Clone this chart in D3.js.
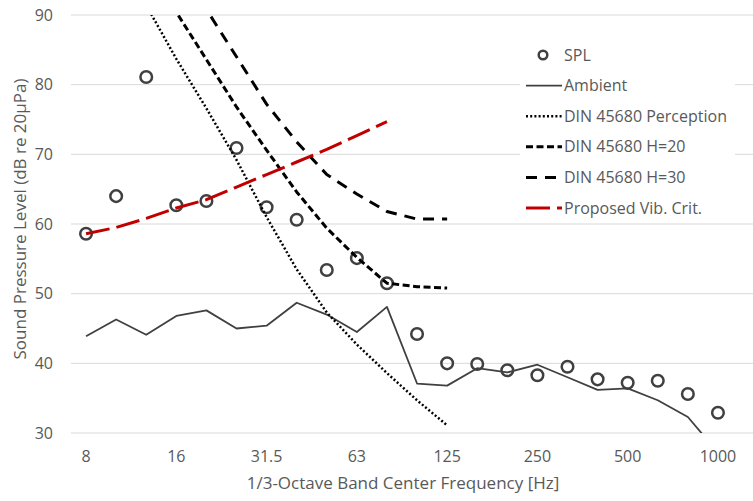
<!DOCTYPE html>
<html><head><meta charset="utf-8">
<script src="https://cdnjs.cloudflare.com/ajax/libs/d3/7.8.5/d3.min.js"></script>
<style>
html,body{margin:0;padding:0;background:#fff;}
svg{display:block;font-family:"Open Sans",sans-serif;}
</style></head>
<body><svg id="c" width="753" height="501"></svg>
<script>
const bands = ["8","10","12.5","16","20","25","31.5","40","50","63","80","100","125","160","200","250","315","400","500","630","800","1000"];
const tickLabels = ["8","16","31.5","63","125","250","500","1000"];
const yTicks = [30,40,50,60,70,80,90];
const spl = [58.6,64.0,81.1,62.7,63.3,70.9,62.4,60.6,53.4,55.1,51.5,44.2,40.0,39.9,39.0,38.3,39.5,37.7,37.2,37.5,35.6,32.9];
const ambient = [43.9,46.3,44.1,46.8,47.6,45.0,45.4,48.7,47.0,44.5,48.1,37.1,36.8,39.3,38.7,39.8,38.0,36.2,36.4,34.7,32.3,27.2];
const dinPerception = [107.0,99.2,91.4,83.7,76.6,69.2,61.0,53.5,47.3,42.7,38.6,34.7,31.1,null,null,null,null,null,null,null,null,null];
const dinH20 = [105.0,98.0,97.0,90.4,83.6,76.8,70.6,64.6,59.4,55.2,51.5,51.0,50.8,null,null,null,null,null,null,null,null,null];
const dinH30 = [112.0,105.0,98.0,97.5,90.8,84.0,77.2,71.8,67.1,64.3,61.8,60.7,60.7,null,null,null,null,null,null,null,null,null];
const proposed = [58.6,59.5,60.8,62.3,63.5,65.3,67.1,68.9,70.7,72.7,74.7,null,null,null,null,null,null,null,null,null,null,null];
const legendNames = ["SPL","Ambient","DIN 45680 Perception","DIN 45680 H=20","DIN 45680 H=30","Proposed Vib. Crit."];

const svg = d3.select("#c");
const L=71, R=733, T=15, B=433;
const x = d3.scalePoint().domain(bands).range([L,R]).padding(0.5);
const y = d3.scaleLinear().domain([30,90]).range([B,T]);

// gridlines
svg.append("g").selectAll("line").data(yTicks).join("line")
  .attr("x1",L).attr("x2",753).attr("y1",d=>y(d)).attr("y2",d=>y(d))
  .attr("stroke","#d9d9d9").attr("stroke-width",1);

// y tick labels
svg.append("g").selectAll("text").data(yTicks).join("text")
  .attr("x",53).attr("y",d=>y(d)).attr("dy","0.35em").attr("text-anchor","end")
  .attr("font-size",16).attr("fill","#595959").text(d=>d);

// x tick labels
svg.append("g").selectAll("text").data(tickLabels).join("text")
  .attr("x",d=>x(d)).attr("y",462).attr("text-anchor","middle")
  .attr("font-size",16).attr("fill","#595959").text(d=>d);

// axis titles
svg.append("text").attr("x",403).attr("y",489).attr("text-anchor","middle")
  .attr("font-size",17).attr("fill","#595959").text("1/3-Octave Band Center Frequency [Hz]");
svg.append("text").attr("transform","translate(26,219) rotate(-90)").attr("text-anchor","middle")
  .attr("font-size",17).attr("fill","#595959").text("Sound Pressure Level (dB re 20µPa)");

svg.append("clipPath").attr("id","clip").append("rect").attr("x",L).attr("y",T).attr("width",753-L).attr("height",B-T);
const plot = svg.append("g").attr("clip-path","url(#clip)");

function line(vals){
  return d3.line().defined(d=>d!=null).x((d,i)=>x(bands[i])).y(d=>y(d))(vals);
}
// SPL circles
plot.append("g").selectAll("circle").data(spl).join("circle")
  .attr("cx",(d,i)=>x(bands[i])).attr("cy",d=>y(d)).attr("r",5.8)
  .attr("fill","none").attr("stroke","#404040").attr("stroke-width",2.5);

const styles = [
  {vals:ambient, color:"#404040", w:1.8, dash:null},
  {vals:dinPerception, color:"#000", w:2.5, dash:"2,2.2"},
  {vals:dinH20, color:"#000", w:3, dash:"7,3.5"},
  {vals:dinH30, color:"#000", w:3, dash:"11,8"},
  {vals:proposed, color:"#c00000", w:3, dash:"24,7"}
];
styles.forEach(s=>{
  plot.append("path").attr("d",line(s.vals)).attr("fill","none")
    .attr("stroke",s.color).attr("stroke-width",s.w)
    .attr("stroke-dasharray",s.dash).attr("stroke-linejoin","round");
});

// legend
const lg = svg.append("g");
lg.append("rect").attr("x",520).attr("y",32).attr("width",215).attr("height",190).attr("fill","#fff");
const ly0=55, lstep=30.6;
legendNames.forEach((n,i)=>{
  const yy = ly0+i*lstep;
  if(i===0){
    lg.append("circle").attr("cx",543).attr("cy",yy).attr("r",4.3).attr("fill","none").attr("stroke","#404040").attr("stroke-width",2.5);
  } else {
    const s = styles[i-1];
    lg.append("line").attr("x1",526).attr("x2",562).attr("y1",yy).attr("y2",yy)
      .attr("stroke",s.color).attr("stroke-width",s.w).attr("stroke-dasharray",s.dash);
  }
  lg.append("text").attr("x",564).attr("y",yy).attr("dy","0.35em").attr("font-size",16)
    .attr("fill","#595959").text(n);
});
</script></body></html>
